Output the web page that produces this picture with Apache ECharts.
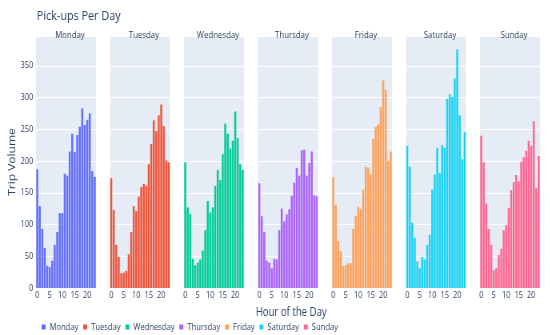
<!DOCTYPE html>
<html><head><meta charset="utf-8">
<script src="https://cdn.jsdelivr.net/npm/echarts@6/dist/echarts.min.js"></script>
<style>
html,body{margin:0;padding:0;background:#fff;width:550px;height:335px;overflow:hidden}
#c{width:687.5px;height:335px;transform:scaleX(0.8);transform-origin:0 0}
</style>
</head><body><div id="c"></div>
<script>
const hours = ['0','1','2','3','4','5','6','7','8','9','10','11','12','13','14','15','16','17','18','19','20','21','22','23'];
const days = ['Monday','Tuesday','Wednesday','Thursday','Friday','Saturday','Sunday'];
const monday    = [187,129,93,63,35,33,43,68,88,118,118,180,177,215,243,214,241,254,283,257,265,275,184,175];
const tuesday   = [173,123,68,49,23,24,27,53,88,129,121,144,159,164,161,195,227,264,247,272,289,255,201,198];
const wednesday = [198,127,117,46,36,40,45,59,91,137,119,127,161,186,170,211,259,243,220,232,278,236,195,186];
const thursday  = [165,113,88,43,40,31,46,45,91,125,105,116,124,145,166,189,177,217,218,177,197,215,146,145];
const friday    = [175,131,74,58,35,36,39,39,93,113,128,124,155,191,190,179,235,254,258,285,327,312,200,215];
const saturday  = [224,191,103,79,42,31,49,45,68,84,155,179,221,181,225,221,298,305,301,330,376,272,203,246];
const sunday    = [240,198,133,93,68,28,31,52,62,91,99,126,154,167,178,168,199,206,216,232,224,263,157,208];
const values = [monday,tuesday,wednesday,thursday,friday,saturday,sunday];
const colors = ['#636efa','#EF553B','#00cc96','#ab63fa','#FFA15A','#19d3f3','#FF6692'];
const yMax = 397;

// layout in the (unsquished) drawing space; the container is scaled 0.8 horizontally
const lefts = [45,137.5,230,322.5,415,507.5,600];
const W = 75, TOP = 36, H = 252;
const txt = '#2a3f5f';
const F = '"Open Sans", sans-serif';

const grid = [], xAxis = [], yAxis = [], series = [], title = [];
title.push({text:'Pick-ups Per Day', left:41, top:4, textStyle:{fontFamily:F, fontSize:13.5, fontWeight:'normal', color:txt}});
days.forEach((d,i)=>{
  grid.push({left:lefts[i], top:TOP, width:W, height:H, backgroundColor:'#E5ECF6', show:true, borderWidth:0});
  xAxis.push({type:'category', gridIndex:i, data:hours, boundaryGap:true,
    axisLine:{show:false}, axisTick:{show:false},
    axisLabel:{interval:(idx)=>idx%5===0, fontSize:9.2, color:txt, fontFamily:F, margin:3}});
  yAxis.push({type:'value', gridIndex:i, min:0, max:yMax, interval:50,
    axisLine:{show:false}, axisTick:{show:false},
    splitLine:{lineStyle:{color:'#ffffff', width:1}},
    axisLabel:{show:i===0, fontSize:9.2, color:txt, fontFamily:F, margin:3.5, showMaxLabel:false},
    name: i===0 ? 'Trip Volume' : '', nameLocation:'middle', nameGap:21,
    nameTextStyle:{fontSize:12, color:txt, fontFamily:F}});
  series.push({type:'bar', name:d, xAxisIndex:i, yAxisIndex:i, data:values[i],
    itemStyle:{color:colors[i]}, barCategoryGap:'20%'});
  title.push({text:d, left:lefts[i]+W/2, top:25, textAlign:'center',
    textStyle:{fontFamily:F, fontSize:9.8, fontWeight:'normal', color:txt}});
});
title.push({text:'Hour of the Day', left:359, top:302, textAlign:'center',
  textStyle:{fontFamily:F, fontSize:12, fontWeight:'normal', color:txt}});

const chart = echarts.init(document.getElementById('c'), null, {renderer:'canvas'});
chart.setOption({
  animation:false,
  backgroundColor:'#ffffff',
  title, grid, xAxis, yAxis, series,
  legend:{data:days, left:47, top:317, icon:'rect', itemWidth:5, itemHeight:5, itemGap:6,
    textStyle:{fontSize:9.5, color:txt, fontFamily:F}}
});
</script></body></html>
